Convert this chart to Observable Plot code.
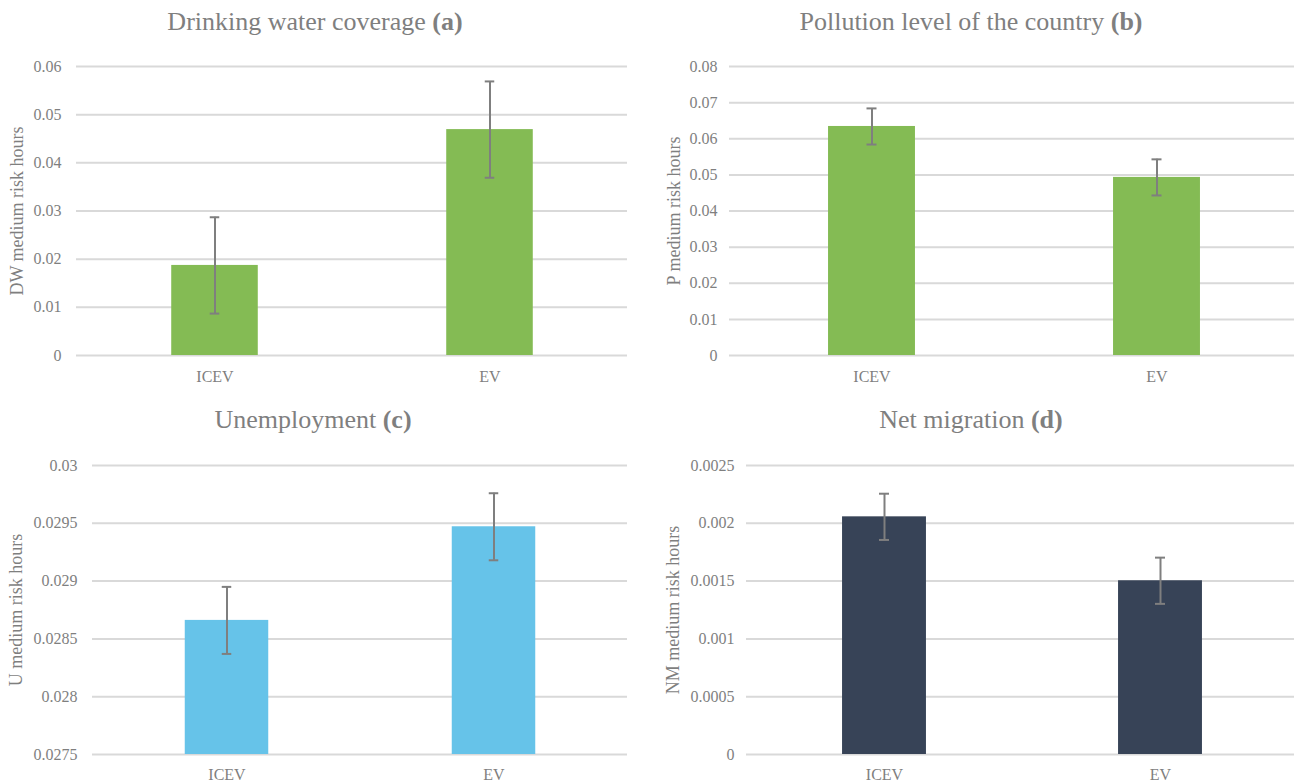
<!DOCTYPE html>
<html><head><meta charset="utf-8">
<script src="https://cdn.jsdelivr.net/npm/d3@7"></script>
<script src="https://cdn.jsdelivr.net/npm/@observablehq/plot@0.6"></script>
<style>
body{margin:0;background:#fff;}
#root{position:relative;width:1294px;height:783px;overflow:hidden;font-family:"Liberation Serif","Times New Roman",serif;}
.title{position:absolute;font-size:26px;line-height:30px;color:#7f7f7f;white-space:nowrap;transform:translateX(-50%);}
svg.panel{position:absolute;font-family:"Liberation Serif","Times New Roman",serif !important;overflow:visible;}
svg.panel text{font-family:"Liberation Serif","Times New Roman",serif !important;}
</style></head><body><div id="root"></div>
<script>
const categories = ["ICEV", "EV"];

const dwValues = [0.0187, 0.0469];
const dwErrors = [0.01, 0.01];
const dwTicks = [0, 0.01, 0.02, 0.03, 0.04, 0.05, 0.06];

const pValues = [0.0634, 0.0493];
const pErrors = [0.005, 0.005];
const pTicks = [0, 0.01, 0.02, 0.03, 0.04, 0.05, 0.06, 0.07, 0.08];

const uValues = [0.02866, 0.02947];
const uErrors = [0.00029, 0.00029];
const uTicks = [0.0275, 0.028, 0.0285, 0.029, 0.0295, 0.03];

const nmValues = [0.002056, 0.001503];
const nmErrors = [0.0002, 0.0002];
const nmTicks = [0, 0.0005, 0.001, 0.0015, 0.002, 0.0025];

const panels = [
  {title: "Drinking water coverage ", tag: "(a)", ylabel: "DW medium risk hours", values: dwValues, errors: dwErrors, ticks: dwTicks, color: "#84bb54",
   left: 0, top: 40, width: 640, height: 360, mt: 26, mb: 45, ml: 76, mr: 13, tx: 315, ty: 7, labelX: 17, xpad: 15, ypad: 15, frac: 0.316},
  {title: "Pollution level of the country ", tag: "(b)", ylabel: "P medium risk hours", values: pValues, errors: pErrors, ticks: pTicks, color: "#84bb54",
   left: 650, top: 40, width: 649, height: 360, mt: 26, mb: 45, ml: 79, mr: 0, tx: 971, ty: 7, labelX: 24, xpad: 15, ypad: 12, frac: 0.305},
  {title: "Unemployment ", tag: "(c)", ylabel: "U medium risk hours", values: uValues, errors: uErrors, ticks: uTicks, color: "#66c3e9",
   left: 0, top: 440, width: 640, height: 343, mt: 25, mb: 29, ml: 92, mr: 13, tx: 313, ty: 405, labelX: 16, xpad: 14, ypad: 15, frac: 0.314},
  {title: "Net migration ", tag: "(d)", ylabel: "NM medium risk hours", values: nmValues, errors: nmErrors, ticks: nmTicks, color: "#374357",
   left: 650, top: 440, width: 648, height: 343, mt: 25, mb: 29, ml: 96, mr: 0, tx: 971, ty: 405, labelX: 23, xpad: 14, ypad: 12, frac: 0.304}
];

const fmt = d => d === 0 ? "0" : String(parseFloat(d.toPrecision(6)));
const root = document.getElementById("root");

for (const p of panels) {
  const data = categories.map((c, i) => ({cat: c, v: p.values[i], e: p.errors[i]}));
  const yMin = p.ticks[0], yMax = p.ticks[p.ticks.length - 1];
  const band = (p.width - p.ml - p.mr) / categories.length;
  const barInset = band * (1 - p.frac) / 2;
  const capInset = (band - 10) / 2;
  const chart = Plot.plot({
    width: p.width, height: p.height,
    marginTop: p.mt, marginBottom: p.mb, marginLeft: p.ml, marginRight: p.mr,
    style: {fontSize: "16px", color: "#7f7f7f", background: "white"},
    x: {domain: categories, padding: 0, label: null},
    y: {domain: [yMin, yMax], label: null},
    marks: [
      Plot.ruleY(p.ticks, {stroke: "#d9d9d9", strokeWidth: 2}),
      Plot.barY(data, {x: "cat", y1: () => yMin, y2: "v", fill: p.color, insetLeft: barInset, insetRight: barInset}),
      Plot.ruleX(data, {x: "cat", y1: d => d.v - d.e, y2: d => d.v + d.e, stroke: "#7f7f7f", strokeWidth: 2}),
      Plot.tickY(data, {x: "cat", y: d => d.v + d.e, stroke: "#7f7f7f", strokeWidth: 2, insetLeft: capInset, insetRight: capInset}),
      Plot.tickY(data, {x: "cat", y: d => d.v - d.e, stroke: "#7f7f7f", strokeWidth: 2, insetLeft: capInset, insetRight: capInset}),
      Plot.axisY({ticks: p.ticks, tickFormat: fmt, tickSize: 0, tickPadding: p.ypad, label: null, fontSize: 16}),
      Plot.axisX({tickSize: 0, tickPadding: p.xpad, label: null, fontSize: 16}),
      Plot.text([p.ylabel], {frameAnchor: "left", textAnchor: "middle", lineAnchor: "middle", rotate: -90, dx: p.labelX - p.ml, text: d => d, fontSize: 18, fill: "#7f7f7f"})
    ]
  });
  chart.classList.add("panel");
  chart.style.left = p.left + "px";
  chart.style.top = p.top + "px";
  root.appendChild(chart);

  const t = document.createElement("div");
  t.className = "title";
  t.style.left = p.tx + "px";
  t.style.top = p.ty + "px";
  t.append(document.createTextNode(p.title));
  const b = document.createElement("b");
  b.textContent = p.tag;
  t.append(b);
  root.appendChild(t);
}
</script></body></html>
